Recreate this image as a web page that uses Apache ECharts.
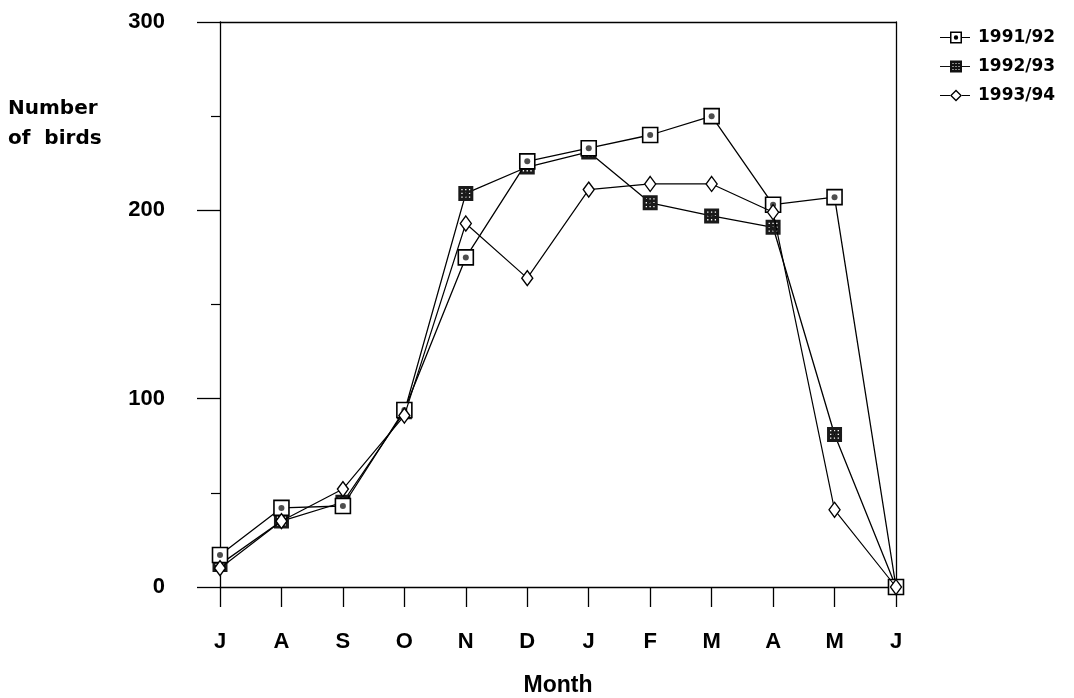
<!DOCTYPE html>
<html><head><meta charset="utf-8">
<script src="https://cdn.jsdelivr.net/npm/echarts@6/dist/echarts.min.js"></script>
<style>html,body{margin:0;padding:0;background:#fff}#c{width:1074px;height:698px}</style>
</head><body><div id="c"></div>
<script>
// ---- data ----
const months = ['J','A','S','O','N','D','J','F','M','A','M','J'];
const seriesNames = ['1991/92', '1992/93', '1993/94'];
const s9192 = [17, 42, 43, 94, 175, 226, 233, 240, 250, 203, 207, 0];
const s9293 = [12, 35, 45, 93, 209, 223, 231, 204, 197, 191, 81, 0];
const s9394 = [10, 35, 52, 91, 193, 164, 211, 214, 214, 199, 41, 0];
const yMin = 0, yMax = 300, yStep = 100;

// ---- symbol paths (styling only) ----
function rectCW(x, y, w, h) { return `M${x} ${y} L${x+w} ${y} L${x+w} ${y+h} L${x} ${y+h} Z `; }
function rectCCW(x, y, w, h) { return `M${x} ${y} L${x} ${y+h} L${x+w} ${y+h} L${x+w} ${y} Z `; }
function hatchSquare(x0, y0, s, hole, pos) {
  let p = rectCW(x0, y0, s, s);
  pos.forEach(a => pos.forEach(b => { p += rectCCW(x0 + a, y0 + b, hole, hole); }));
  return p;
}
const lineL = rectCW(0, 5.4, 10, 1.2), lineR = rectCW(22, 5.4, 8, 1.2);
const iconA = 'path://' + lineL + rectCW(10, 0, 12, 12) + rectCCW(11.5, 1.5, 9, 9) +
  'M18.2 6 A2.2 2.2 0 1 1 13.8 6 A2.2 2.2 0 1 1 18.2 6 Z ' + lineR;
const iconB = 'path://' + lineL + hatchSquare(10, 0, 12, 1, [2.5, 5.5, 8.5]) + lineR;
const iconC = 'path://' + lineL + 'M16 0 L22 6 L16 12 L10 6 Z M16 1.9 L11.9 6 L16 10.1 L20.1 6 Z ' + lineR;
const markB = 'path://' + hatchSquare(0, 0, 15, 1.3, [3, 6.8, 10.6]);

const FONT = '"Liberation Sans", Arial, sans-serif';
const WIDE = '"DejaVu Sans", sans-serif';
const chart = echarts.init(document.getElementById('c'));
chart.setOption({
  animation: false,
  backgroundColor: '#fff',
  grid: { left: 220, right: 178, top: 22, bottom: 111, outerBoundsMode: 'none', containLabel: false },
  legend: {
    orient: 'vertical', left: 935, top: 23,
    itemWidth: 30, itemHeight: 12, itemGap: 10,
    textStyle: { fontFamily: WIDE, fontWeight: 'bold', fontSize: 17, color: '#000', lineHeight: 19, padding: [0, 0, 0, 3] },
    data: [
      { name: seriesNames[0], icon: iconA, itemStyle: { color: '#000', borderWidth: 0 } },
      { name: seriesNames[1], icon: iconB, itemStyle: { color: '#111', borderWidth: 0 } },
      { name: seriesNames[2], icon: iconC, itemStyle: { color: '#000', borderWidth: 0 } }
    ]
  },
  xAxis: [{
    type: 'category', data: months, boundaryGap: false,
    name: 'Month', nameLocation: 'middle', nameGap: 87,
    nameTextStyle: { fontFamily: FONT, fontWeight: 'bold', fontSize: 23, color: '#000' },
    axisLine: { lineStyle: { color: '#000', width: 1.3 } },
    axisTick: { show: true, length: 20, inside: false, lineStyle: { color: '#000', width: 1.3 } },
    axisLabel: { interval: 0, margin: 44, fontFamily: FONT, fontWeight: 'bold', fontSize: 22, color: '#000' },
    splitLine: { show: false }
  }, {
    type: 'category', data: months, boundaryGap: false, position: 'top',
    axisLine: { show: true, onZero: false, lineStyle: { color: '#000', width: 1.3 } },
    axisTick: { show: false }, axisLabel: { show: false }, splitLine: { show: false }
  }],
  yAxis: [{
    type: 'value', min: yMin, max: yMax, interval: yStep,
    axisLine: { show: true, onZero: false, lineStyle: { color: '#000', width: 1.3 } },
    axisTick: { show: true, length: 23, lineStyle: { color: '#000', width: 1.3 } },
    minorTick: { show: true, splitNumber: 2, length: 9, lineStyle: { color: '#000', width: 1.2 } },
    axisLabel: { margin: 55, fontFamily: FONT, fontWeight: 'bold', fontSize: 22, color: '#000' },
    splitLine: { show: false }
  }, {
    type: 'value', min: yMin, max: yMax, interval: yStep, position: 'right',
    axisLine: { show: true, onZero: false, lineStyle: { color: '#000', width: 1.3 } },
    axisTick: { show: false }, axisLabel: { show: false }, splitLine: { show: false }
  }],
  graphic: [{
    type: 'text', left: 8, top: 94,
    style: { text: 'Number\nof  birds', fontFamily: WIDE, fontWeight: 'bold', fontSize: 20, lineHeight: 30, fill: '#000', align: 'center' }
  }],
  series: [
    {
      name: seriesNames[1], type: 'line', data: s9293, symbol: markB, symbolSize: 15,
      lineStyle: { color: '#000', width: 1.3 },
      itemStyle: { color: '#1a1a1a', borderColor: '#000', borderWidth: 0 }, z: 2
    },
    {
      name: seriesNames[0], type: 'line', data: s9192, symbol: 'rect', symbolSize: 15,
      lineStyle: { color: '#000', width: 1.3 },
      itemStyle: { color: '#fff', borderColor: '#000', borderWidth: 1.6 }, z: 3
    },
    {
      name: 'dot9192', type: 'scatter', data: s9192, symbol: 'circle', symbolSize: 6,
      itemStyle: { color: '#222' }, z: 4, silent: true
    },
    {
      name: seriesNames[2], type: 'line', data: s9394, symbol: 'diamond', symbolSize: [11, 15],
      lineStyle: { color: '#000', width: 1.2 },
      itemStyle: { color: '#fff', borderColor: '#000', borderWidth: 1.4 }, z: 5
    }
  ]
});
</script></body></html>
